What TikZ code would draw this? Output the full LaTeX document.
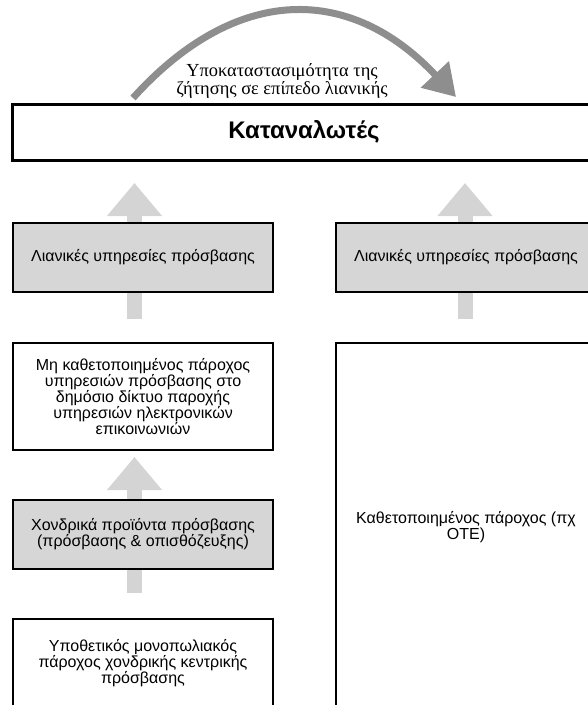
\documentclass[tikz,border=0pt]{standalone}
\usepackage{fontspec}
\setmainfont{Liberation Sans}
\newfontfamily\serifgr{Liberation Serif}
\usetikzlibrary{arrows.meta,positioning}
\definecolor{boxgrey}{RGB}{214,214,214}
\definecolor{upgrey}{RGB}{212,212,212}
\definecolor{arcgrey}{RGB}{142,142,142}
\tikzset{
  box/.style={
    draw,
    line width=2.4pt,
    fill=white,
    minimum width=260pt,
    inner sep=0pt,
    align=center,
    font=\fontsize{16}{16}\selectfont
  },
  greybox/.style={
    box,
    fill=boxgrey
  },
  uparrow/.style={
    draw=upgrey,
    line width=15pt,
    -{Triangle[length=33pt,width=53pt]}
  },
  swaparrow/.style={
    draw=arcgrey,
    line width=7pt,
    -{Triangle[length=31pt,width=37pt]}
  },
}
\begin{document}
\begin{tikzpicture}[x=1pt,y=-1pt]
  \useasboundingbox (0,0) rectangle (588,705);
  % block arrows, partly hidden by the boxes
  \foreach \x/\ys/\ye [count=\i] in {134.5/319/183,134.5/593/457,465/319/183}{
    \coordinate (up\i s) at (\x,\ys);
    \coordinate (up\i e) at (\x,\ye);
    \draw[uparrow] (up\i s) -- (up\i e);
  }
  % substitution arc
  \coordinate (arcs) at (133,98);
  \coordinate (arce) at (456,97);
  \draw[swaparrow] (arcs) .. controls (236,-16) and (350,-16) .. (arce);
  \node[font=\serifgr\fontsize{18.4}{18}\selectfont,align=center] (swap) at (282,81)
    {Υποκαταστασιμότητα της\\ζήτησης σε επίπεδο λιανικής};
  % boxes
  \node[box,line width=3pt,minimum width=584pt,minimum height=56pt,
    font=\bfseries\fontsize{24}{28}\selectfont] (cons) at (304,132) {Καταναλωτές};
  \node[greybox,minimum height=69pt] (retl) at (143,257.5) {Λιανικές υπηρεσίες πρόσβασης};
  \node[greybox,minimum height=69pt] (retr) at (466,257.5) {Λιανικές υπηρεσίες πρόσβασης};
  \node[box,minimum height=107pt] (mkp) at (143,396.5)
    {Μη καθετοποιημένος πάροχος\\υπηρεσιών πρόσβασης στο\\δημόσιο δίκτυο παροχής\\υπηρεσιών ηλεκτρονικών\\επικοινωνιών};
  \node[greybox,minimum height=69pt] (whs) at (143,534.5)
    {Χονδρικά προϊόντα πρόσβασης\\(πρόσβασης \& οπισθόζευξης)};
  \node[box,minimum height=88pt] (hmp) at (143,663)
    {Υποθετικός μονοπωλιακός\\πάροχος χονδρικής κεντρικής\\πρόσβασης};
  \node[box,minimum height=368pt] (vip) at (466,527)
    {Καθετοποιημένος πάροχος (πχ\\ΟΤΕ)};
\end{tikzpicture}
\end{document}
